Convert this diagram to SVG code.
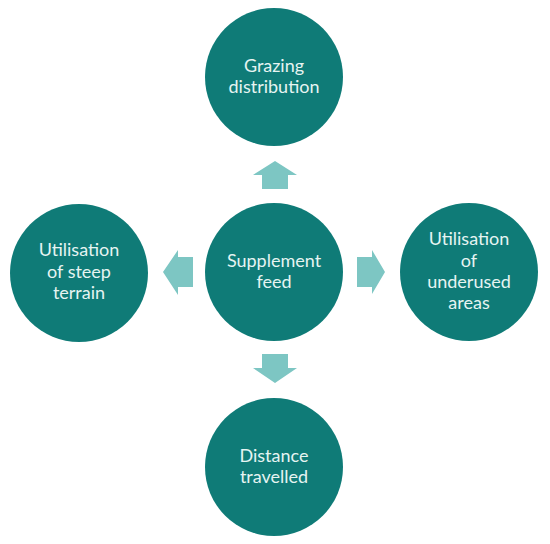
<svg xmlns="http://www.w3.org/2000/svg" width="550" height="544" viewBox="0 0 550 544">
<style>
.node circle{fill:#0f7b77}
.node text{fill:#e6f4f2;font-family:Lato,"Liberation Sans",sans-serif;font-size:18px;text-anchor:middle}
.arrow{fill:#7dc6c3}
</style>
<rect width="550" height="544" fill="#ffffff"/>
<g id="connectors">
<polygon class="arrow" points="275,161 297,175 288,175 288,189 262,189 262,175 253,175"/>
<polygon class="arrow" points="385,272 372,294 372,287 357,287 357,257 372,257 372,250"/>
<polygon class="arrow" points="275,383 297,368 288,368 288,354 262,354 262,368 253,368"/>
<polygon class="arrow" points="163,272 178,250 178,257 193,257 193,287 178,287 178,295"/>
</g>
<g id="node-center" class="node">
<circle cx="274" cy="272" r="69"/>
<text x="274" y="267">Supplement</text>
<text x="274" y="288">feed</text>
</g>
<g id="node-top" class="node">
<circle cx="274" cy="77" r="69"/>
<text x="274" y="72">Grazing</text>
<text x="274" y="93">distribution</text>
</g>
<g id="node-right" class="node">
<circle cx="469" cy="272" r="69"/>
<text x="469" y="245">Utilisation</text>
<text x="469" y="267">of</text>
<text x="469" y="288">underused</text>
<text x="469" y="309">areas</text>
</g>
<g id="node-bottom" class="node">
<circle cx="274" cy="467" r="69"/>
<text x="274" y="462">Distance</text>
<text x="274" y="483">travelled</text>
</g>
<g id="node-left" class="node">
<circle cx="79" cy="273" r="69"/>
<text x="79" y="256">Utilisation</text>
<text x="79" y="278">of steep</text>
<text x="79" y="299">terrain</text>
</g>
</svg>
